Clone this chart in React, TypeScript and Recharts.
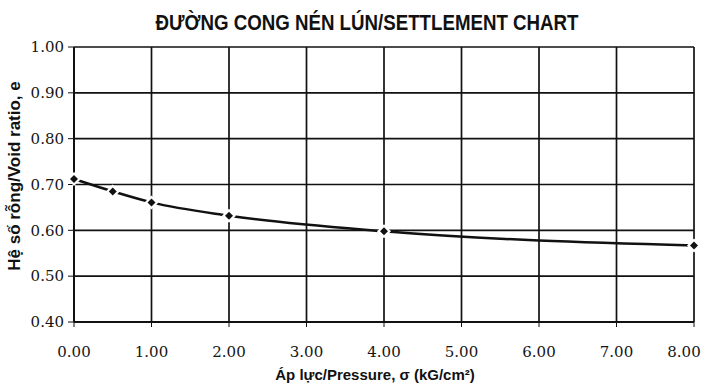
import { CartesianGrid, Line, LineChart, XAxis, YAxis } from "recharts";

// pressure (kG/cm²) and void ratio
const pressures = [0, 0.5, 1, 2, 4, 8];
const voidRatios = [0.712, 0.685, 0.661, 0.632, 0.598, 0.567];

const xTicks = [0, 1, 2, 3, 4, 5, 6, 7, 8];
const yTicks = [0.4, 0.5, 0.6, 0.7, 0.8, 0.9, 1.0];

const data = pressures.map((p, i) => ({ p, e: voidRatios[i] }));

const tickFont = {
  fontFamily: "'DejaVu Serif', 'Liberation Serif', serif",
  fontSize: 15,
  fill: "#151515",
};

const labelFont = {
  fontFamily: "'Liberation Sans', Arial, sans-serif",
  fontWeight: "bold",
  fill: "#111",
};

function Diamond(props: any) {
  const { cx, cy } = props;
  if (cx == null || cy == null) return null;
  const d = (r: number) => `M${cx},${cy - r}L${cx + r},${cy}L${cx},${cy + r}L${cx - r},${cy}Z`;
  return (
    <g>
      <path d={d(7)} fill="#fff" />
      <path d={d(4)} fill="#111" />
    </g>
  );
}

// keeps the last label (8.00) inside the page like the scan does
function XTick(props: any) {
  const { x, y, payload } = props;
  const cx = Math.min(x, 684);
  return (
    <text x={cx} y={y} dy="0.71em" textAnchor="middle" {...tickFont}>
      {Number(payload.value).toFixed(2)}
    </text>
  );
}

function YTitle() {
  return (
    <text
      x={14}
      y={176}
      transform="rotate(-90 14 176)"
      textAnchor="middle"
      dominantBaseline="central"
      fontSize={17}
      {...labelFont}
    >
      Hệ số rỗng/Void ratio, e
    </text>
  );
}

export default function App() {
  return (
    <div style={{ position: "absolute", left: 0, top: 0, width: 703, height: 383, background: "#fff" }}>
      <div
        style={{
          position: "absolute",
          left: 0,
          top: 10,
          width: 734,
          textAlign: "center",
          fontFamily: "'Liberation Sans', Arial, sans-serif",
          fontWeight: "bold",
          fontSize: 22,
          color: "#111",
          transform: "scaleX(0.85)",
          transformOrigin: "367px 0",
        }}
      >
        ĐƯỜNG CONG NÉN LÚN/SETTLEMENT CHART
      </div>
      <LineChart
        width={703}
        height={383}
        data={data}
        margin={{ top: 47, right: 9, left: 14, bottom: 0 }}
        style={{ position: "absolute", left: 0, top: 0 }}
      >
        <CartesianGrid stroke="#111" strokeWidth={1.7} horizontalValues={yTicks} verticalValues={xTicks} />
        <XAxis
          dataKey="p"
          type="number"
          domain={[0, 8]}
          ticks={xTicks}
          height={61}
          tickSize={5}
          tickMargin={19}
          tick={<XTick />}
          axisLine={{ stroke: "#111", strokeWidth: 2 }}
          tickLine={{ stroke: "#111" }}
          label={{
            value: "Áp lực/Pressure, σ (kG/cm²)",
            position: "insideBottom",
            offset: 3,
            dx: -9,
            style: { ...labelFont, fontSize: 15 },
          }}
        />
        <YAxis
          type="number"
          domain={[0.4, 1.0]}
          ticks={yTicks}
          tickFormatter={(v: number) => v.toFixed(2)}
          width={60}
          tickSize={6}
          tickMargin={4}
          tick={tickFont}
          axisLine={{ stroke: "#111", strokeWidth: 2 }}
          tickLine={{ stroke: "#111" }}
          label={<YTitle />}
        />
        <Line
          dataKey="e"
          type="monotone"
          stroke="#111"
          strokeWidth={2.5}
          dot={<Diamond />}
          activeDot={false}
          isAnimationActive={false}
        />
      </LineChart>
    </div>
  );
}
